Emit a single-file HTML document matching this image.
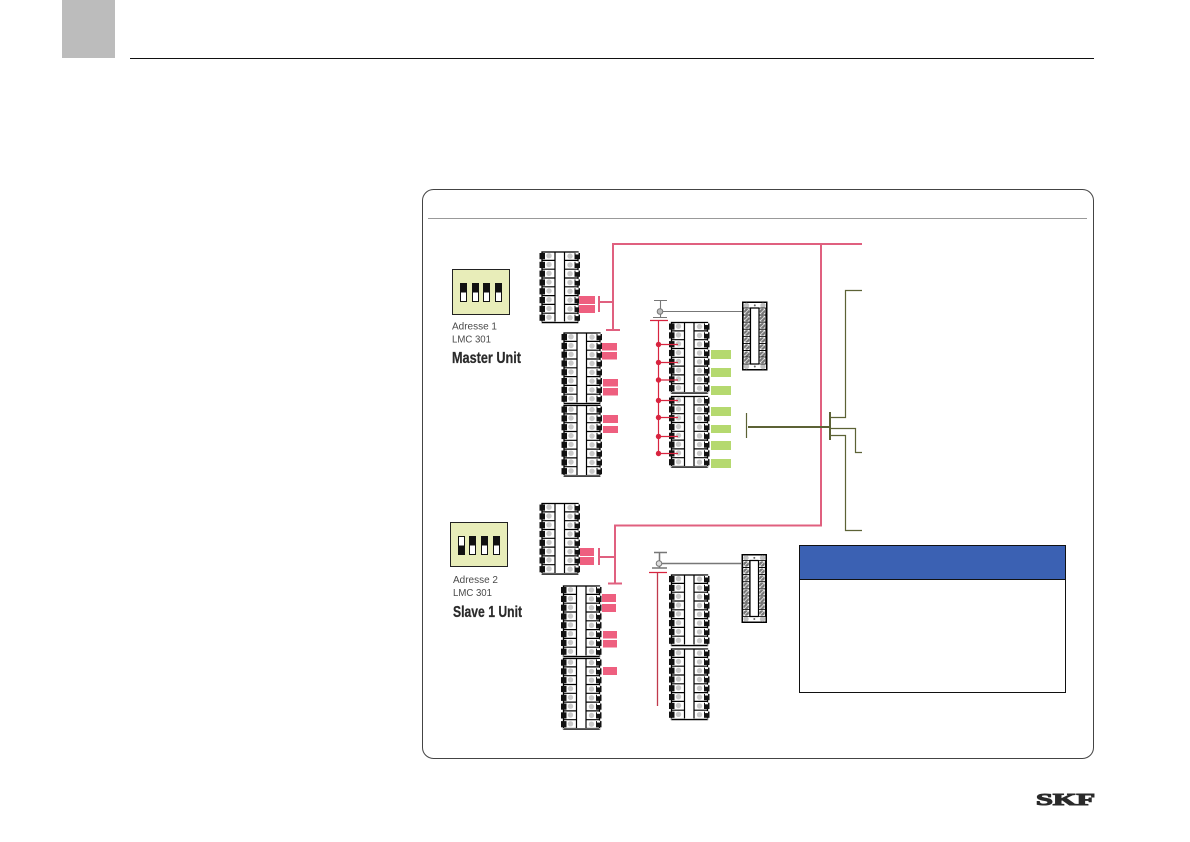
<!DOCTYPE html>
<html>
<head>
<meta charset="utf-8">
<title>LMC 301 wiring</title>
<style>
html,body{margin:0;padding:0;background:#fff;width:1190px;height:842px;overflow:hidden}
svg{display:block}
text{font-family:"Liberation Sans",sans-serif;fill:#4a4a4a}
.n{font-size:10.500px}
.b{font-family:"Liberation Sans Narrow","Liberation Sans",sans-serif;font-weight:bold;font-size:16px;fill:#2b2b2b;stroke:#2b2b2b;stroke-width:.25px}
</style>
</head>
<body>
<svg width="1190" height="842" viewBox="0 0 1190 842" xmlns="http://www.w3.org/2000/svg">
<defs>
<g id="r">
<path d="M2 8.9H15.500M25 8.9H38.500" stroke="#000" stroke-width="1.200"/>
<rect x="0" y="1.500" width="5.500" height="6.200" fill="#111"/>
<rect x="35" y="1.500" width="5.500" height="6.200" fill="#111"/>
<rect x="36" y="1" width="3" height="2" fill="#fff"/>
<circle cx="9.500" cy="4.200" r="2.700" fill="#c8c8c8"/>
<circle cx="30.500" cy="4.600" r="2.700" fill="#c8c8c8"/>
</g>
<g id="tb">
<rect x="2.500" y="0.500" width="36" height="70.500" fill="#fff" stroke="#000" stroke-width="1.300"/>
<path d="M15.500 0.500V71M25 0.500V71" stroke="#000" stroke-width="1.200"/>
<use href="#r" y="0"/><use href="#r" y="8.800"/><use href="#r" y="17.600"/><use href="#r" y="26.400"/>
<use href="#r" y="35.200"/><use href="#r" y="44"/><use href="#r" y="52.800"/><use href="#r" y="61.600"/>
<rect x="2" y="70" width="37" height="1.200" fill="#fff"/>
<path d="M2.500 71H38.500" stroke="#000" stroke-width="1.300"/>
</g>
<g id="h">
<rect x="1.300" y="0" width="6.800" height="7" fill="#fff" stroke="#000" stroke-width=".8"/>
<rect x="17" y="0" width="6.800" height="7" fill="#fff" stroke="#000" stroke-width=".8"/>
<circle cx="4.700" cy="3.500" r="2.700" fill="#777"/><circle cx="20.400" cy="3.500" r="2.700" fill="#777"/>
<path d="M2.800 5.400L6.600 1.600M18.500 5.400L22.300 1.600" stroke="#ddd" stroke-width=".9"/>
</g>
<g id="sb">
<rect x=".75" y=".75" width="24" height="67.500" fill="#fff" stroke="#000" stroke-width="1.500"/>
<circle cx="4.500" cy="3.900" r="2.700" fill="#c0c0c0"/><circle cx="21" cy="3.900" r="2.700" fill="#c0c0c0"/>
<circle cx="12.800" cy="3.900" r="1" fill="#666"/>
<circle cx="4.500" cy="65" r="2.700" fill="#c0c0c0"/><circle cx="21" cy="65" r="2.700" fill="#c0c0c0"/>
<circle cx="12.800" cy="65" r="1" fill="#666"/>
<use href="#h" y="6.500"/><use href="#h" y="13.600"/><use href="#h" y="20.700"/><use href="#h" y="27.800"/>
<use href="#h" y="34.900"/><use href="#h" y="42"/><use href="#h" y="49.100"/><use href="#h" y="55.500"/>
<path d="M8.500 6.500V62.500M17 6.500V62.500M8 6.500H17M8 62.500H17" stroke="#000" stroke-width="1.200" fill="none"/>
</g>
<g id="sw1"><rect x=".5" y=".5" width="6" height="18" fill="#fff" stroke="#111"/><rect x=".5" y=".5" width="6" height="9" fill="#111"/></g>
<g id="sw0"><rect x=".5" y=".5" width="6" height="18" fill="#fff" stroke="#111"/><rect x=".5" y="9.500" width="6" height="9" fill="#111"/></g>
</defs>

<rect width="1190" height="842" fill="#fff"/>
<rect x="62" y="0" width="53" height="58" fill="#bcbcbc"/>
<path d="M130 58.500H1094" stroke="#111" stroke-width="1"/>

<rect x="422.500" y="189.500" width="671" height="569" rx="11" fill="#fff" stroke="#444" stroke-width="1"/>
<path d="M428 218.500H1087" stroke="#999" stroke-width="1"/>

<!-- DIP switches -->
<rect x="452.500" y="269.500" width="57" height="45" fill="#e8edb9" stroke="#222"/>
<use href="#sw1" x="460" y="283"/><use href="#sw1" x="472" y="283"/><use href="#sw1" x="483" y="283"/><use href="#sw1" x="495" y="283"/>
<rect x="450.500" y="522.500" width="57" height="44" fill="#e8edb9" stroke="#222"/>
<use href="#sw0" x="458" y="536"/><use href="#sw1" x="469" y="536"/><use href="#sw1" x="481" y="536"/><use href="#sw1" x="493" y="536"/>

<text class="n" x="452" y="329.500" textLength="45" lengthAdjust="spacingAndGlyphs">Adresse 1</text>
<text class="n" x="452" y="342.500" textLength="39" lengthAdjust="spacingAndGlyphs">LMC 301</text>
<text class="b" x="452" y="363" textLength="69" lengthAdjust="spacingAndGlyphs">Master Unit</text>
<text class="n" x="453" y="583" textLength="45" lengthAdjust="spacingAndGlyphs">Adresse 2</text>
<text class="n" x="453" y="596" textLength="39" lengthAdjust="spacingAndGlyphs">LMC 301</text>
<text class="b" x="453" y="617" textLength="69" lengthAdjust="spacingAndGlyphs">Slave 1 Unit</text>

<!-- terminal blocks -->
<use href="#tb" x="539.500" y="251.500"/>
<use href="#tb" x="561.500" y="332.500"/>
<use href="#tb" x="561.500" y="405"/>
<use href="#tb" x="669" y="322"/>
<use href="#tb" x="669" y="396"/>
<use href="#tb" x="539.500" y="503"/>
<use href="#tb" x="561" y="585.500"/>
<use href="#tb" x="561" y="658"/>
<use href="#tb" x="669" y="574.500"/>
<use href="#tb" x="669" y="648.500"/>
<use href="#sb" x="742" y="301.500"/>
<use href="#sb" x="741.500" y="554"/>

<!-- pink pads -->
<g fill="#ee5f7f">
<rect x="579" y="296" width="16" height="8"/><rect x="579" y="305" width="16" height="8"/>
<rect x="602" y="343" width="15" height="7.500"/><rect x="602" y="352" width="15" height="7.500"/>
<rect x="603" y="379" width="15" height="7.500"/><rect x="603" y="388" width="15" height="7.500"/>
<rect x="603" y="415" width="15" height="8"/><rect x="603" y="426" width="15" height="7"/>
<rect x="580" y="548" width="14" height="8"/><rect x="580" y="557" width="14" height="8"/>
<rect x="602" y="594" width="14" height="8"/><rect x="602" y="604" width="14" height="8"/>
<rect x="603" y="631" width="14" height="7.500"/><rect x="603" y="640" width="14" height="7.500"/>
<rect x="603" y="667" width="14" height="8"/>
</g>

<!-- green pads -->
<g fill="#b5d96f">
<rect x="711" y="350" width="20" height="9"/><rect x="711" y="368" width="20" height="9"/>
<rect x="711" y="386" width="20" height="9"/><rect x="711" y="407" width="20" height="9"/>
<rect x="711" y="425" width="20" height="8"/><rect x="711" y="441" width="20" height="9"/>
<rect x="711" y="459" width="20" height="9"/>
</g>

<!-- grey connectors -->
<g stroke="#777" fill="none">
<path d="M654 300.500H667M660.500 300.500V318M653 317.500H667M660 311.500H742" stroke-width="1.100"/>
<path d="M654 552.500H667M659.500 552.500V568M652 568H667M659 563.500H741" stroke-width="1.500"/>
</g>
<circle cx="660" cy="311.500" r="2.800" fill="#bbb" stroke="#777"/>
<circle cx="659" cy="563.500" r="2.800" fill="#ddd" stroke="#777"/>

<!-- red bus -->
<g stroke="#d8243f" stroke-width="1.200" fill="none">
<path d="M650 320.500H668M658.500 320.500V453"/>
<path d="M658.500 344.500H678M658.500 362.500H678M658.500 380H678M658.500 400.500H678M658.500 417.500H678M658.500 436.500H678M658.500 453.500H678"/>
</g>
<g fill="#d8243f">
<circle cx="658.500" cy="344.500" r="2.700"/><circle cx="658.500" cy="362.500" r="2.700"/><circle cx="658.500" cy="380" r="2.700"/>
<circle cx="658.500" cy="400.500" r="2.700"/><circle cx="658.500" cy="417.500" r="2.700"/><circle cx="658.500" cy="436.500" r="2.700"/>
<circle cx="658.500" cy="453.500" r="2.700"/>
</g>
<path d="M649 572.500H667" stroke="#d8243f" stroke-width="1.200" fill="none"/>
<path d="M657.500 572.500V706" stroke="#c0394c" stroke-width="1.300" fill="none"/>

<!-- pink bus -->
<g stroke="#e0607f" fill="none" stroke-width="2">
<path d="M862 244H613V330M606 330H620M613 302H599M599 296V312"/>
<path d="M821 244V525.500H615V583M608 583.500H622M615 557H599M599 548V565"/>
</g>

<!-- olive bus -->
<g stroke="#5c6235" fill="none">
<path d="M748 427H830" stroke-width="2"/>
<path d="M746.500 413V438" stroke-width="1.200"/>
<path d="M830 412V440" stroke-width="2"/>
<path d="M830 417.500H845.500V290.500H862M830 428.500H855.500V452.500H862M830 435.500H845.500V530.500H862" stroke-width="1.200"/>
</g>

<!-- note box -->
<rect x="799.500" y="545.500" width="266" height="147" fill="#fff" stroke="#111"/>
<rect x="800" y="546" width="265" height="33" fill="#3b61b3"/>
<path d="M800 579.500H1065" stroke="#111"/>

<!-- SKF logo -->
<text x="1036" y="805" textLength="59" lengthAdjust="spacingAndGlyphs" style="font-family:'Liberation Serif',serif;font-weight:bold;font-size:17px;fill:#2a2a2a;stroke:#2a2a2a;stroke-width:1px">SKF</text>
</svg>
</body>
</html>
